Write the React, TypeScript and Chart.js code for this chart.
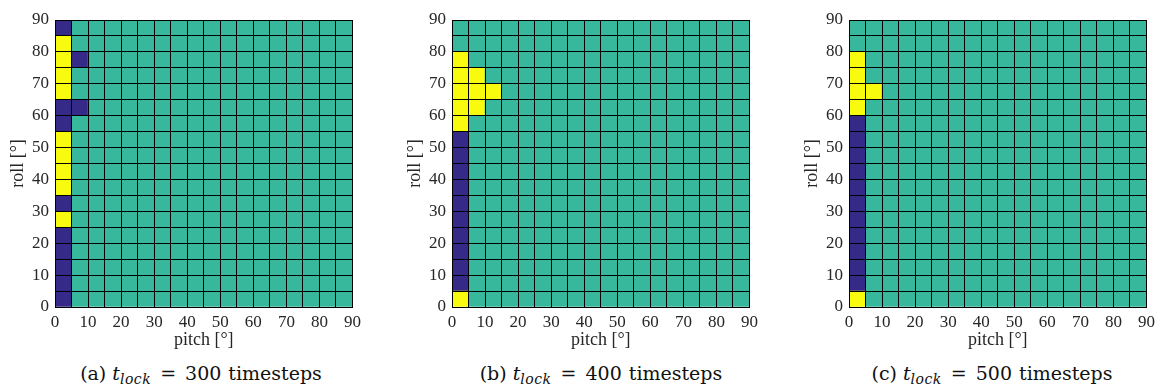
import React, { useEffect, useRef } from "react";
import { Chart, registerables } from "chart.js";

Chart.register(...registerables);

// lower edges of the 5° bins
const PITCH_BINS = [0, 5, 10, 15, 20, 25, 30, 35, 40, 45, 50, 55, 60, 65, 70, 75, 80, 85];
// roll bins listed top (85–90) to bottom (0–5), matching the grid rows below
const ROLL_BINS = [85, 80, 75, 70, 65, 60, 55, 50, 45, 40, 35, 30, 25, 20, 15, 10, 5, 0];
const AXIS_TICKS = [0, 10, 20, 30, 40, 50, 60, 70, 80, 90];

// cell classes: 0 = dark blue, 1 = teal, 2 = yellow (one char per pitch bin)
const GRID_300 = [
  "011111111111111111",
  "211111111111111111",
  "201111111111111111",
  "211111111111111111",
  "211111111111111111",
  "001111111111111111",
  "011111111111111111",
  "211111111111111111",
  "211111111111111111",
  "211111111111111111",
  "211111111111111111",
  "011111111111111111",
  "211111111111111111",
  "011111111111111111",
  "011111111111111111",
  "011111111111111111",
  "011111111111111111",
  "011111111111111111",
];

const GRID_400 = [
  "111111111111111111",
  "111111111111111111",
  "211111111111111111",
  "221111111111111111",
  "222111111111111111",
  "221111111111111111",
  "211111111111111111",
  "011111111111111111",
  "011111111111111111",
  "011111111111111111",
  "011111111111111111",
  "011111111111111111",
  "011111111111111111",
  "011111111111111111",
  "011111111111111111",
  "011111111111111111",
  "011111111111111111",
  "211111111111111111",
];

const GRID_500 = [
  "111111111111111111",
  "111111111111111111",
  "211111111111111111",
  "211111111111111111",
  "221111111111111111",
  "211111111111111111",
  "011111111111111111",
  "011111111111111111",
  "011111111111111111",
  "011111111111111111",
  "011111111111111111",
  "011111111111111111",
  "011111111111111111",
  "011111111111111111",
  "011111111111111111",
  "011111111111111111",
  "011111111111111111",
  "211111111111111111",
];

const CELL_COLORS = ["#352a87", "#37b89d", "#f9fb0e"];

const PANEL_LABELS = ["(a)", "(b)", "(c)"];
const PANEL_TLOCK = [300, 400, 500];
const PANEL_GRIDS = [GRID_300, GRID_400, GRID_500];

const FONT_FAMILY = "'Liberation Serif', 'DejaVu Serif', serif";
const CAPTION_FONT = "'DejaVu Serif', serif";
const TEXT_COLOR = "#262626";

// layout
const CANVAS_W = 366;
const CANVAS_H = 352;
const Y_AXIS_W = 55;
const X_AXIS_H = 45;
const PANEL_LEFT = [0, 397, 794];
const CAPTION_CX = [201, 601, 992];

function Heatmap({ grid, left }: { grid: string[]; left: number }) {
  const ref = useRef<HTMLCanvasElement | null>(null);
  useEffect(() => {
    if (!ref.current) return;
    const points: { x: number; y: [number, number] }[] = [];
    const colors: string[] = [];
    grid.forEach((row, r) => {
      const roll = ROLL_BINS[r];
      PITCH_BINS.forEach((pitch, c) => {
        points.push({ x: pitch + 2.5, y: [roll, roll + 5] });
        colors.push(CELL_COLORS[Number(row[c])]);
      });
    });
    const tickFont = { family: FONT_FAMILY, size: 17 };
    const titleFont = { family: FONT_FAMILY, size: 18 };
    const tickCb = (v: any) => (AXIS_TICKS.includes(Number(v)) ? String(v) : "");
    const chart = new Chart(ref.current, {
      type: "bar",
      data: {
        datasets: [
          {
            data: points as any,
            backgroundColor: colors,
            borderWidth: 0,
            barPercentage: 1,
            categoryPercentage: 1,
          },
        ],
      },
      options: {
        animation: false,
        responsive: false,
        maintainAspectRatio: false,
        layout: { padding: { top: 20, right: 10, left: 0, bottom: 0 } },
        plugins: { legend: { display: false }, tooltip: { enabled: false } },
        scales: {
          x: {
            type: "linear",
            min: 0,
            max: 90,
            offset: false,
            ticks: {
              stepSize: 5,
              autoSkip: false,
              maxRotation: 0,
              padding: 5,
              color: TEXT_COLOR,
              font: tickFont,
              callback: tickCb,
            },
            grid: { color: "#000", lineWidth: 1, drawTicks: false, offset: false, z: 1 },
            border: { color: "#000", width: 1, z: 1 },
            title: {
              display: true,
              text: "pitch [°]",
              color: TEXT_COLOR,
              font: titleFont,
              padding: { top: 0, bottom: 1 },
            },
            afterFit: (s: any) => {
              s.height = X_AXIS_H;
            },
          },
          y: {
            type: "linear",
            min: 0,
            max: 90,
            ticks: {
              stepSize: 5,
              autoSkip: false,
              padding: 6,
              color: TEXT_COLOR,
              font: tickFont,
              callback: tickCb,
            },
            grid: { color: "#000", lineWidth: 1, drawTicks: false, z: 1 },
            border: { color: "#000", width: 1, z: 1 },
            title: {
              display: true,
              text: "roll [°]",
              color: TEXT_COLOR,
              font: titleFont,
              padding: { top: 7, bottom: 0 },
            },
            afterFit: (s: any) => {
              s.width = Y_AXIS_W;
            },
          },
        },
      } as any,
    });
    return () => chart.destroy();
  }, [grid]);
  return (
    <canvas
      ref={ref}
      width={CANVAS_W}
      height={CANVAS_H}
      style={{ position: "absolute", left, top: 0, width: CANVAS_W, height: CANVAS_H }}
    />
  );
}

export default function App() {
  return (
    <div
      style={{
        position: "absolute",
        left: 0,
        top: 0,
        width: 1162,
        height: 388,
        background: "#fff",
        overflow: "hidden",
        fontFamily: FONT_FAMILY,
      }}
    >
      {PANEL_GRIDS.map((g, i) => (
        <Heatmap key={i} grid={g} left={PANEL_LEFT[i]} />
      ))}
      {PANEL_LABELS.map((lab, i) => (
        <div
          key={"cap" + i}
          style={{
            position: "absolute",
            left: CAPTION_CX[i] - 200,
            width: 400,
            top: 361,
            textAlign: "center",
            fontFamily: CAPTION_FONT,
            fontSize: 19,
            lineHeight: "24px",
            color: "#111",
            whiteSpace: "nowrap",
          }}
        >
          <span style={{ marginRight: 6 }}>{lab}</span>
          <i>t</i>
          <sub
            style={{
              fontSize: 14,
              fontStyle: "italic",
              verticalAlign: "-4px",
              lineHeight: 0,
              letterSpacing: "0.5px",
            }}
          >
            lock
          </sub>
          <span style={{ margin: "0 9px" }}>=</span>
          <span style={{ marginRight: 7 }}>{PANEL_TLOCK[i]}</span>
          timesteps
        </div>
      ))}
    </div>
  );
}
